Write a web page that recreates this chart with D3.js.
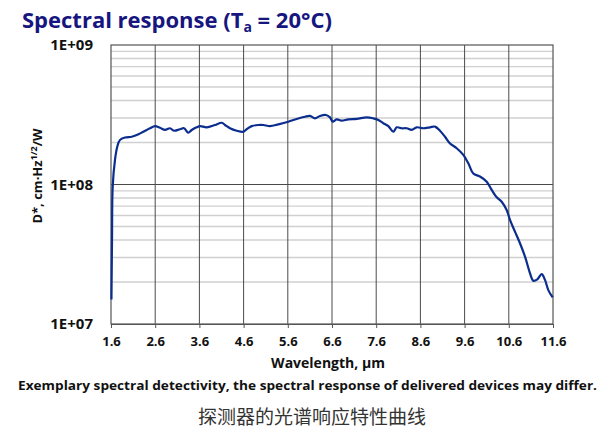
<!DOCTYPE html>
<html><head><meta charset="utf-8">
<script src="https://cdn.jsdelivr.net/npm/d3@7"></script>
<style>html,body{margin:0;padding:0;background:#fff;}svg{display:block;}</style>
</head><body>
<script>
const wavelength = [1.61,1.623,1.638,1.69,1.743,1.80,1.917,2.068,2.181,2.331,2.482,2.595,2.709,2.822,2.935,3.025,3.161,3.252,3.349,3.426,3.539,3.614,3.765,3.953,4.105,4.179,4.292,4.444,4.593,4.670,4.783,4.933,5.046,5.197,5.385,5.611,5.801,5.989,6.102,6.215,6.329,6.464,6.555,6.616,6.706,6.819,6.969,7.159,7.385,7.534,7.648,7.761,7.874,7.987,8.064,8.177,8.290,8.403,8.516,8.666,8.817,8.930,9.043,9.156,9.270,9.421,9.571,9.684,9.797,9.948,10.100,10.213,10.326,10.439,10.552,10.627,10.740,10.853,10.967,11.080,11.154,11.245,11.344,11.419,11.494,11.593];
const detectivity = [1.5e7,4.0e7,9.6e7,1.50e8,1.87e8,2.08e8,2.17e8,2.20e8,2.26e8,2.39e8,2.53e8,2.62e8,2.55e8,2.46e8,2.53e8,2.43e8,2.49e8,2.53e8,2.35e8,2.46e8,2.57e8,2.62e8,2.57e8,2.67e8,2.77e8,2.67e8,2.53e8,2.43e8,2.39e8,2.49e8,2.62e8,2.67e8,2.67e8,2.62e8,2.70e8,2.82e8,2.95e8,3.06e8,3.10e8,2.98e8,3.10e8,3.15e8,3.03e8,2.82e8,2.93e8,2.87e8,2.93e8,2.95e8,3.03e8,2.98e8,2.90e8,2.75e8,2.62e8,2.39e8,2.57e8,2.53e8,2.53e8,2.46e8,2.57e8,2.53e8,2.57e8,2.60e8,2.43e8,2.20e8,1.97e8,1.82e8,1.63e8,1.42e8,1.20e8,1.14e8,1.047e8,9.14e7,8.09e7,7.53e7,6.56e7,5.57e7,4.59e7,3.79e7,3.04e7,2.31e7,2.04e7,2.09e7,2.28e7,2.07e7,1.75e7,1.55e7];
const xTicks = [1.6,2.6,3.6,4.6,5.6,6.6,7.6,8.6,9.6,10.6,11.6];
const xTickLabels = ["1.6","2.6","3.6","4.6","5.6","6.6","7.6","8.6","9.6","10.6","11.6"];
const yTicks = [1e7,1e8,1e9];
const yTickLabels = ["1E+07","1E+08","1E+09"];

const W = 605, H = 443;
const L = 111, R = 553, T = 45, B = 324;
const svg = d3.select("body").append("svg").attr("width", W).attr("height", H);

const x = d3.scaleLinear().domain([1.6, 11.6]).range([L, R]);
const y = d3.scaleLog().domain([1e7, 1e9]).range([B, T]);

// minor horizontal gridlines
const minor = [];
[1e7, 1e8].forEach(d => { for (let k = 2; k <= 9; k++) minor.push(d * k); });
svg.append("g").selectAll("line").data(minor).join("line")
  .attr("x1", L).attr("x2", R).attr("y1", d => y(d)).attr("y2", d => y(d))
  .attr("stroke", "#d0d0d0").attr("stroke-width", 1.4);

// vertical gridlines
svg.append("g").selectAll("line").data(xTicks.slice(1, -1)).join("line")
  .attr("x1", d => x(d)).attr("x2", d => x(d)).attr("y1", T).attr("y2", B)
  .attr("stroke", "#4a4a4a").attr("stroke-width", 1);

// major horizontal line
svg.append("line").attr("x1", L).attr("x2", R).attr("y1", y(1e8)).attr("y2", y(1e8))
  .attr("stroke", "#4a4a4a").attr("stroke-width", 1);

// frame
svg.append("rect").attr("x", L).attr("y", T).attr("width", R - L).attr("height", B - T)
  .attr("fill", "none").attr("stroke", "#555").attr("stroke-width", 1.2);

// bottom axis
const xAxis = d3.axisBottom(x).tickValues(xTicks).tickFormat((d, i) => xTickLabels[i]).tickSize(4).tickPadding(9);
const gx = svg.append("g").attr("transform", `translate(0,${B})`).call(xAxis);
gx.attr("font-size", null).attr("font-family", null);
gx.select(".domain").attr("stroke", "#555");
gx.selectAll(".tick line").attr("stroke", "#555");
gx.selectAll("text").style("font-family", "'Open Sans', sans-serif").style("font-weight", "bold")
  .style("font-size", "13px").attr("fill", "#111");

// left axis labels
const yAxis = d3.axisLeft(y).tickValues(yTicks).tickFormat((d, i) => yTickLabels[i]).tickSize(0).tickPadding(18);
const gy = svg.append("g").attr("transform", `translate(${L},0)`).call(yAxis);
gy.attr("font-size", null).attr("font-family", null);
gy.select(".domain").remove();
gy.selectAll("text").style("font-family", "'Open Sans', sans-serif").style("font-weight", "bold")
  .style("font-size", "15px").attr("fill", "#111");

// curve
const pts = wavelength.map((w, i) => [w, detectivity[i]]);
const line = d3.line().x(d => x(d[0])).y(d => y(d[1])).curve(d3.curveCatmullRom);
svg.append("path").attr("d", line(pts)).attr("fill", "none")
  .attr("stroke", "#0b2d8e").attr("stroke-width", 2.2).attr("stroke-linejoin", "round");

// title
const title = svg.append("text").attr("x", 22).attr("y", 28)
  .attr("font-family", "'Open Sans', sans-serif").attr("font-weight", "bold")
  .attr("font-size", 22).attr("fill", "#16167e");
title.append("tspan").text("Spectral response (T");
title.append("tspan").attr("font-size", 14).attr("dy", 4).text("a");
title.append("tspan").attr("dy", -4).text(" = 20°C)");

// y axis title
const yt = svg.append("text").attr("transform", `translate(42,176) rotate(-90)`)
  .attr("text-anchor", "middle").attr("font-family", "'Open Sans', sans-serif")
  .attr("font-weight", "bold").attr("font-size", 13).attr("fill", "#111");
yt.append("tspan").text("D*, cm·Hz");
yt.append("tspan").attr("font-size", 9).attr("dy", -5).text("1/2");
yt.append("tspan").attr("dy", 5).text("/W");

// x axis title
svg.append("text").attr("x", 328).attr("y", 368).attr("text-anchor", "middle")
  .attr("font-family", "'Open Sans', sans-serif").attr("font-weight", "bold")
  .attr("font-size", 14).attr("fill", "#111").text("Wavelength, µm");

// footnote
svg.append("text").attr("x", 18).attr("y", 390)
  .attr("font-family", "'Open Sans', sans-serif").attr("font-weight", "bold")
  .attr("font-size", 13).attr("fill", "#111")
  .attr("textLength", 579).attr("lengthAdjust", "spacingAndGlyphs")
  .text("Exemplary spectral detectivity, the spectral response of delivered devices may differ.");

// caption
svg.append("text").attr("x", 312).attr("y", 424).attr("text-anchor", "middle")
  .attr("font-family", "'Noto Sans CJK SC', sans-serif").attr("font-size", 19)
  .attr("fill", "#333").text("探测器的光谱响应特性曲线");
</script>
</body></html>
